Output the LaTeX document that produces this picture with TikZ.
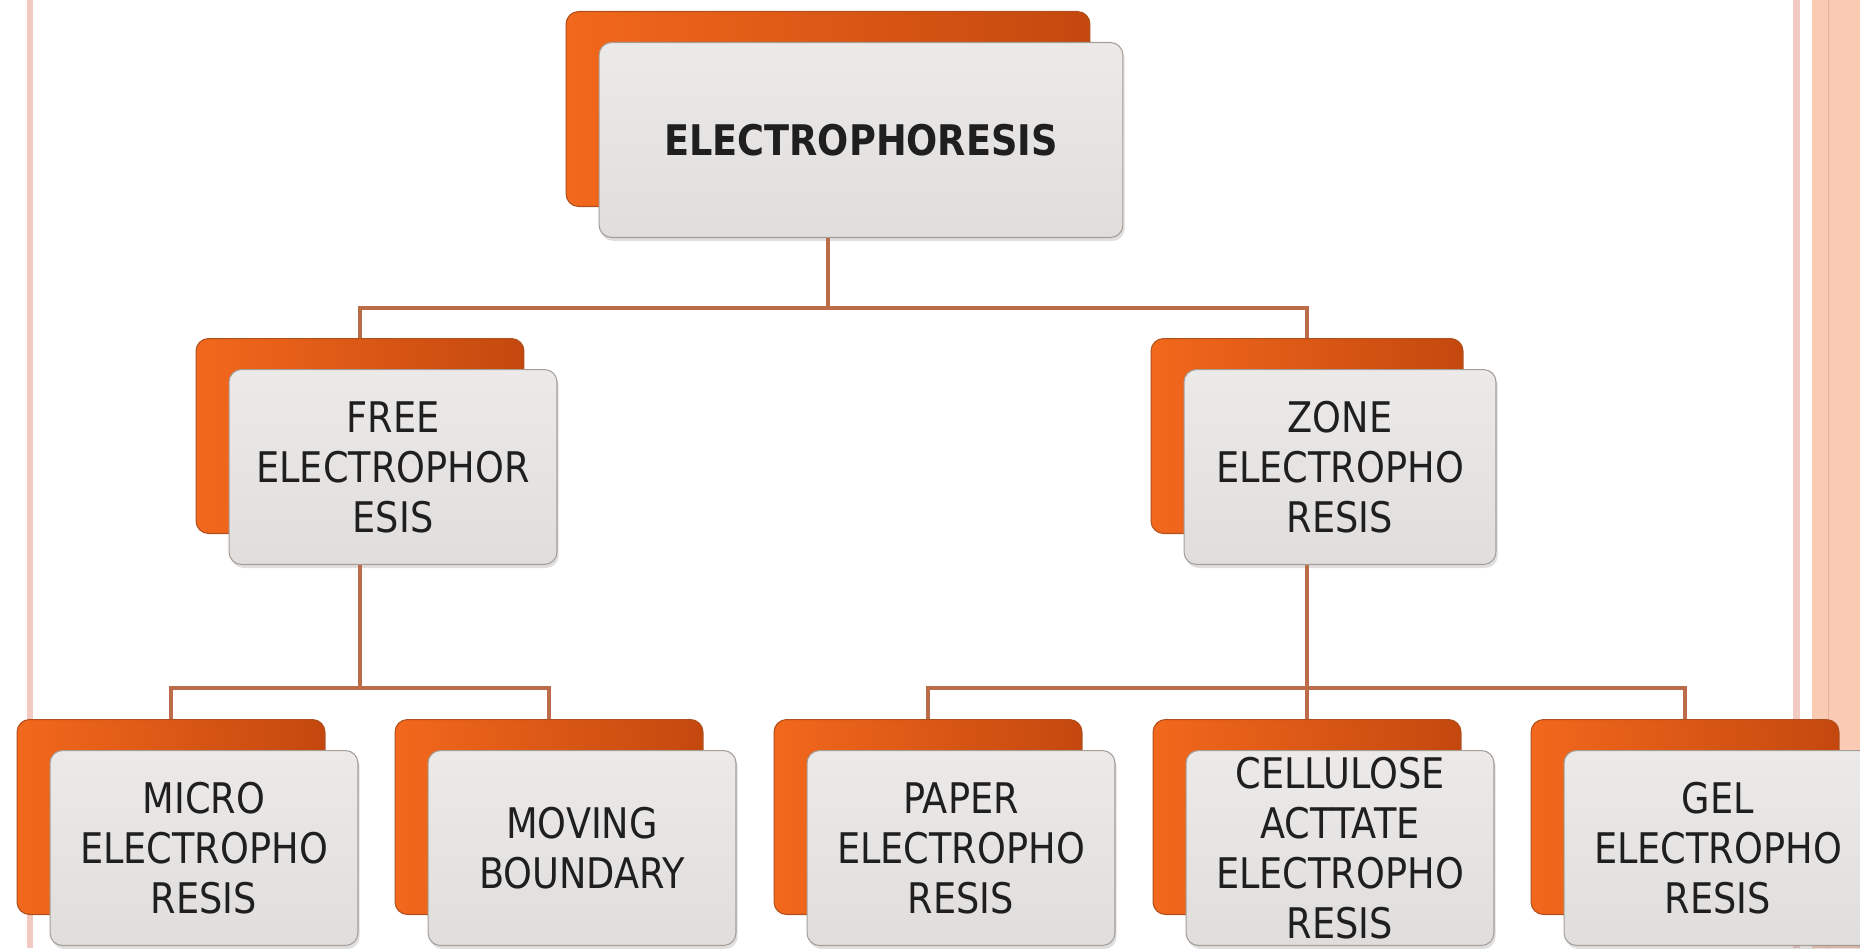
\documentclass[tikz,border=0pt]{standalone}
\usepackage{fontspec}
\setmainfont{DejaVu Sans}[FakeStretch=0.87]
\usetikzlibrary{shadows,positioning}

\definecolor{boxorange}{RGB}{242,104,28}
\definecolor{boxorangedk}{RGB}{196,72,14}
\definecolor{boxedge}{RGB}{175,80,30}
\definecolor{cardgray}{RGB}{236,234,232}
\definecolor{cardgraydk}{RGB}{224,222,220}
\definecolor{cardedge}{RGB}{165,158,152}
\definecolor{linkbrown}{RGB}{188,108,72}
\definecolor{framepink}{RGB}{242,202,194}
\definecolor{framepeach}{RGB}{250,203,178}

\begin{document}
\begin{tikzpicture}[
    x=0.02cm, y=-0.02cm,
    backbox/.style={draw=boxedge, line width=0.6pt, rounded corners=0.25cm, left color=boxorange, right color=boxorangedk, minimum height=3.9cm, inner sep=0pt},
    frontbox/.style={draw=cardedge, line width=0.6pt, rounded corners=0.25cm, top color=cardgray, bottom color=cardgraydk, minimum height=3.9cm, inner sep=0pt, align=center, font=\fontsize{24}{28.5}\selectfont, text=black!88, drop shadow={shadow xshift=1pt, shadow yshift=-2pt, opacity=0.25}},
    link/.style={draw=linkbrown, line width=2pt}
]
\clip (0,0) rectangle (1860,948);

% page frame
\fill[framepink] (27,0) rectangle (33,948);
\fill[framepink] (1793,0) rectangle (1800,948);
\fill[framepeach] (1812,0) rectangle (1860,948);
\draw[framepink!70!brown, line width=0.5pt] (1828,0) -- (1828,948);

% top
\node[backbox, minimum width=10.48cm] (titleb) at (828,109) {};
\node[frontbox, minimum width=10.48cm] (title) at (861,140) {\textbf{ELECTROPHORESIS}};

% middle row
\node[backbox, minimum width=6.56cm] (freeb) at (360,436) {};
\node[frontbox, minimum width=6.56cm] (free) at (393,467) {FREE\\ELECTROPHOR\\ESIS};

\node[backbox, minimum width=6.24cm] (zoneb) at (1307,436) {};
\node[frontbox, minimum width=6.24cm] (zone) at (1340,467) {ZONE\\ELECTROPHO\\RESIS};

% bottom row
\node[backbox, minimum width=6.16cm] (microb) at (171,817) {};
\node[frontbox, minimum width=6.16cm] (micro) at (204,848) {MICRO\\ELECTROPHO\\RESIS};

\node[backbox, minimum width=6.16cm] (movingb) at (549,817) {};
\node[frontbox, minimum width=6.16cm] (moving) at (582,848) {MOVING\\BOUNDARY};

\node[backbox, minimum width=6.16cm] (paperb) at (928,817) {};
\node[frontbox, minimum width=6.16cm] (paper) at (961,848) {PAPER\\ELECTROPHO\\RESIS};

\node[backbox, minimum width=6.16cm] (celluloseb) at (1307,817) {};
\node[frontbox, minimum width=6.16cm] (cellulose) at (1340,848) {CELLULOSE\\ACTTATE\\ELECTROPHO\\RESIS};

\node[backbox, minimum width=6.16cm] (gelb) at (1685,817) {};
\node[frontbox, minimum width=6.16cm] (gel) at (1718,848) {GEL\\ELECTROPHO\\RESIS};

% connectors
\coordinate (bus1) at (830,308);
\coordinate (bus2) at (360,688);
\coordinate (bus3) at (1307,688);

\draw[link] (titleb |- title.south) -- (titleb |- bus1);
\draw[link] (freeb.north) -- (freeb |- bus1) -- (zoneb |- bus1) -- (zoneb.north);

\draw[link] (freeb |- free.south) -- (bus2);
\draw[link] (microb.north) -- (microb |- bus2) -- (movingb |- bus2) -- (movingb.north);

\draw[link] (zoneb |- zone.south) -- (bus3);
\draw[link] (paperb.north) -- (paperb |- bus3) -- (gelb |- bus3) -- (gelb.north);
\draw[link] (bus3) -- (celluloseb.north);

\end{tikzpicture}
\end{document}
